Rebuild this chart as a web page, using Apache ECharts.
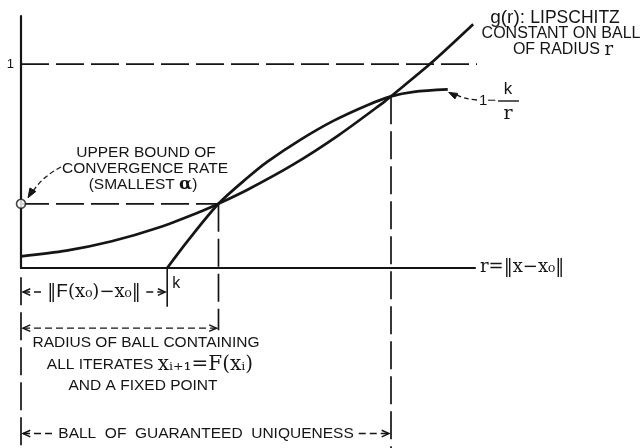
<!DOCTYPE html>
<html>
<head>
<meta charset="utf-8">
<script src="https://cdn.jsdelivr.net/npm/echarts@6/dist/echarts.min.js"></script>
<style>
  html, body { margin: 0; padding: 0; background: #fff; }
  #chart { width: 644px; height: 448px; }
</style>
</head>
<body>
<div id="chart"></div>
<script>
// ---- data (r in axis units, values on the rate axis) ----
// g(r): Lipschitz constant on the ball of radius r
const gR   = [0, 1, 2, 3, 4, 4.35, 5, 6, 7, 8, 8.15, 9, 9.96];
const gVal = [0.057, 0.085, 0.131, 0.196, 0.281, 0.315, 0.385, 0.508, 0.652, 0.815, 0.842, 0.999, 1.196];
// 1 - k/r
const hR   = [3.22, 3.69, 4.35, 5.0, 5.43, 6.16, 6.89, 7.64, 8.15, 8.65, 9.40];
const hVal = [0, 0.138, 0.315, 0.445, 0.522, 0.630, 0.723, 0.800, 0.842, 0.864, 0.876];
const kValue = 3.22;              // k = ||F(x0) - x0|| on the r axis
const alphaPoint = [4.35, 0.315]; // first crossing: smallest alpha
const uniqPoint  = [8.15, 0.842]; // second crossing: uniqueness radius
const yTickLabels = [1];
const rMax = 10, yMax = 1.236, yFloor = -0.886;

const INK = '#151515';
const SANS = "'Liberation Sans', Arial, sans-serif";
const SERIF = "'DejaVu Serif', 'Liberation Serif', serif";

const zip = (xs, ys) => xs.map((x, i) => [x, ys[i]]);

const chart = echarts.init(document.getElementById('chart'), null, { renderer: 'canvas' });

function solid(data, width, smooth) {
  return { type: 'line', data, symbol: 'none', clip: false, smooth: smooth || false,
    silent: true, z: 4, lineStyle: { color: INK, width: width || 2 } };
}
function dashed(data, dash) {
  return { type: 'line', data, symbol: 'none', clip: false, silent: true, z: 2,
    lineStyle: { color: INK, width: 1.7, type: dash || [28, 7] } };
}

chart.setOption({
  animation: false,
  backgroundColor: '#fff',
  grid: { left: 21, right: 644 - 475, top: 16, bottom: 448 - 268 },
  xAxis: {
    type: 'value', min: 0, max: rMax,
    axisLine: { lineStyle: { color: INK, width: 2.2 } },
    axisTick: { show: false }, axisLabel: { show: false }, splitLine: { show: false }
  },
  yAxis: {
    type: 'value', min: 0, max: yMax, interval: 1,
    axisLine: { show: true, lineStyle: { color: INK, width: 2.2 } },
    axisTick: { show: false }, splitLine: { show: false },
    axisLabel: {
      color: INK, fontSize: 13, fontFamily: SANS, margin: 7,
      formatter: v => (yTickLabels.indexOf(v) >= 0 ? String(v) : '')
    }
  },
  series: [
    solid(zip(gR, gVal), 2.7, 0.3),
    solid(zip(hR, hVal), 2.7, 0.3),
    dashed([[0, 1], [rMax + 0.05, 1]]),
    dashed([[0, alphaPoint[1]], alphaPoint]),
    dashed([alphaPoint, [alphaPoint[0], -0.305]]),
    dashed([uniqPoint, [uniqPoint[0], yFloor]]),
    dashed([[0, -0.045], [0, yFloor]]),
    solid([[kValue, 0], [kValue, -0.19]], 1.6),
    {
      type: 'scatter', data: [[0, alphaPoint[1]]], symbol: 'circle', symbolSize: 9,
      clip: false, silent: true, z: 10,
      itemStyle: { color: '#fff', borderColor: INK, borderWidth: 1.6 }
    }
  ]
});

// ---- annotations placed from axis coordinates ----
const P = (r, y) => chart.convertToPixel({ gridIndex: 0 }, [r, y]);
const ctx = document.createElement('canvas').getContext('2d');
const textW = (t, font) => { ctx.font = font; return ctx.measureText(t).width; };

const g = [];
const LBL = 15.5;
const capFont = LBL + 'px ' + SANS;

function text(x, y, str, opt) {
  g.push({ type: 'text', x, y, z: 20, silent: true, style: Object.assign({
    text: str, fill: INK, fontSize: LBL, fontFamily: SANS,
    align: 'center', verticalAlign: 'middle'
  }, opt || {}) });
}
function seg(a, b, dash, w) {
  g.push({ type: 'line', z: 15, silent: true, shape: { x1: a[0], y1: a[1], x2: b[0], y2: b[1] },
    style: { stroke: INK, lineWidth: w || 1.4, lineDash: dash || null } });
}
// open chevron arrowhead, tip at (x,y), pointing in direction ang (radians)
function chevron(tip, ang, len, spread) {
  len = len || 8; spread = spread || 0.42;
  const a = [tip[0] - len * Math.cos(ang - spread), tip[1] - len * Math.sin(ang - spread)];
  const b = [tip[0] - len * Math.cos(ang + spread), tip[1] - len * Math.sin(ang + spread)];
  g.push({ type: 'polyline', z: 15, silent: true, shape: { points: [a, tip, b] },
    style: { stroke: INK, lineWidth: 1.5, fill: null } });
}
function filledHead(tip, ang, len, spread) {
  len = len || 9; spread = spread || 0.38;
  const a = [tip[0] - len * Math.cos(ang - spread), tip[1] - len * Math.sin(ang - spread)];
  const b = [tip[0] - len * Math.cos(ang + spread), tip[1] - len * Math.sin(ang + spread)];
  g.push({ type: 'polygon', z: 15, silent: true, shape: { points: [a, tip, b] },
    style: { fill: INK, stroke: INK, lineWidth: 1 } });
}
// dimension line with optional text in the middle
function dimension(r0, r1, yv, label, font, center) {
  const a = P(r0, yv), b = P(r1, yv);
  const L = [a[0] + 2, a[1]], R = [b[0] - 2, b[1]];
  chevron(L, Math.PI); chevron(R, 0);
  if (!label) { seg(L, R, [7, 4]); return; }
  const cx = center != null ? center : (L[0] + R[0]) / 2;
  const w = textW(label.plain, font);
  seg(L, [cx - w / 2 - 5, L[1]], [7, 4]);
  seg([cx + w / 2 + 5, R[1]], R, [7, 4]);
  label.draw(cx, L[1]);
}

// ||F(x0) - x0|| between origin and k
const fPlain = '‖F(x₀)−x₀‖';
const fFont = '18px ' + SERIF;
dimension(0, kValue, -0.118, {
  plain: fPlain,
  draw: (x, y) => text(x, y, '{m|‖}{s|F}{m|(x₀)−x₀‖}', {
    rich: { m: { fontFamily: SERIF, fontSize: 18, fill: INK },
            s: { fontFamily: SANS, fontSize: 19, fill: INK } } })
}, fFont);
text(P(kValue, 0)[0] + 5, P(0, -0.075)[1], 'k', { align: 'left', fontSize: 16 });

// radius of ball containing the iterates
dimension(0, alphaPoint[0], -0.295);
const rc = P(0, -0.295);
text(146, rc[1] + 15, 'RADIUS OF BALL CONTAINING');
text(150, rc[1] + 37, '{t|ALL ITERATES }{m|xᵢ₊₁=F(xᵢ)}', {
  rich: { t: { fontFamily: SANS, fontSize: LBL, fill: INK },
          m: { fontFamily: SERIF, fontSize: 20, fill: INK } } });
text(143, rc[1] + 58, 'AND A FIXED POINT');

// ball of guaranteed uniqueness
const uText = 'BALL  OF  GUARANTEED  UNIQUENESS';
dimension(0, uniqPoint[0], -0.812, {
  plain: uText,
  draw: (x, y) => text(x, y, uText)
}, capFont);

// axis name
const ax = P(rMax, 0);
text(ax[0] + 5, ax[1] - 1, 'r=‖x−x₀‖', { align: 'left', fontFamily: SERIF, fontSize: 18 });

// convergence-rate note with leader to the marked value
text(146, 153, 'UPPER BOUND OF');
text(145, 169, 'CONVERGENCE RATE');
text(143, 185, '{t|(SMALLEST }{a|α}{t|)}', {
  rich: { t: { fontFamily: SANS, fontSize: LBL, fill: INK },
          a: { fontFamily: SERIF, fontSize: 17, fontWeight: 'bold', fill: INK } } });
const cp = P(0, alphaPoint[1]);
const lead0 = [61, 167], leadC = [40, 178], leadEnd = [cp[0] + 7, cp[1] - 6];
g.push({ type: 'bezierCurve', z: 15, silent: true,
  shape: { x1: lead0[0], y1: lead0[1], x2: leadEnd[0] + 3, y2: leadEnd[1] - 3, cpx1: leadC[0], cpy1: leadC[1] },
  style: { stroke: INK, lineWidth: 1.3, lineDash: [5, 3], fill: null } });
filledHead(leadEnd, Math.atan2(leadEnd[1] - leadC[1], leadEnd[0] - leadC[0]), 10, 0.35);

// g(r) label
text(555, 18, '{g|g(r): }{t|LIPSCHITZ}', {
  rich: { g: { fontFamily: SANS, fontSize: 19, fill: INK },
          t: { fontFamily: SANS, fontSize: 17.5, fill: INK } } });
text(561, 34, 'CONSTANT ON BALL', { fontSize: 16 });
text(563, 50, '{t|OF RADIUS }{m|r}', {
  rich: { t: { fontFamily: SANS, fontSize: 16, fill: INK },
          m: { fontFamily: SERIF, fontSize: 18, fill: INK } } });

// 1 - k/r label with leader
const hEnd = P(hR[hR.length - 1], hVal[hVal.length - 1]);
const hTip = [hEnd[0] + 1, hEnd[1] + 3];
g.push({ type: 'bezierCurve', z: 15, silent: true,
  shape: { x1: 477, y1: 100, x2: hTip[0] + 6, y2: hTip[1] + 1, cpx1: 462, cpy1: 99 },
  style: { stroke: INK, lineWidth: 1.3, lineDash: [5, 3], fill: null } });
filledHead(hTip, Math.atan2(hTip[1] - 99, hTip[0] - 462), 9, 0.35);
text(479, 101, '1−', { align: 'left', fontSize: 15 });
text(508, 89, 'k', { fontSize: 17 });
seg([498, 101], [519, 101], null, 1.4);
text(508, 114, 'r', { fontFamily: SERIF, fontSize: 19 });

chart.setOption({ graphic: g });
</script>
</body>
</html>
